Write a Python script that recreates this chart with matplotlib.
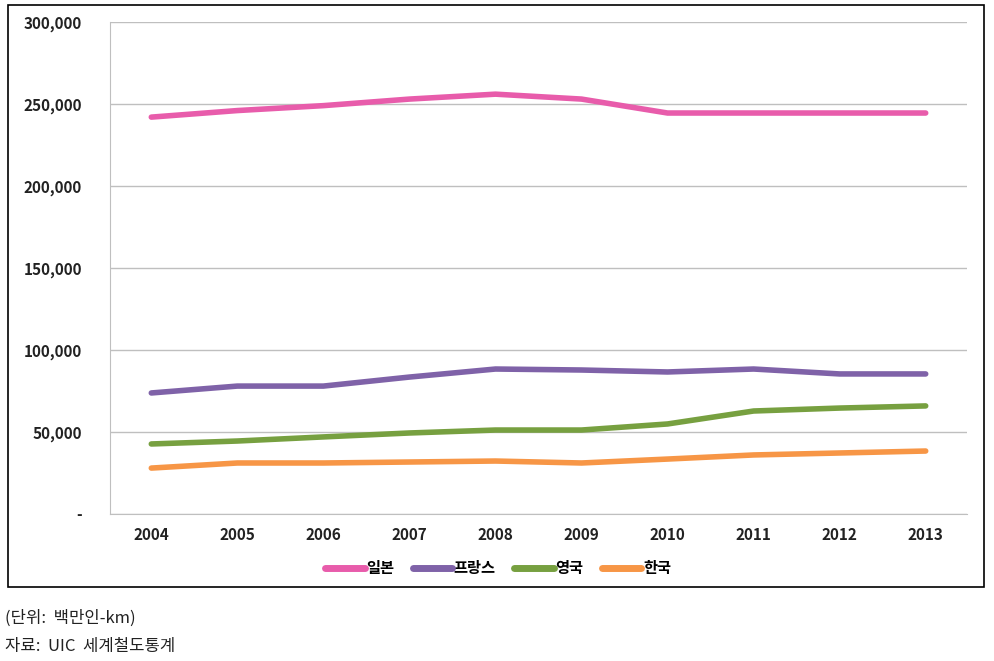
import matplotlib
matplotlib.use('Agg')
import matplotlib.pyplot as plt
from matplotlib.patches import Rectangle
from matplotlib.ticker import FuncFormatter

plt.rcParams['font.family'] = ['Noto Sans CJK KR', 'DejaVu Sans']

years = [2004, 2005, 2006, 2007, 2008, 2009, 2010, 2011, 2012, 2013]
japan = [242000, 246000, 249000, 253000, 256000, 253000, 244500, 244500, 244500, 244500]
france = [73800, 78000, 78000, 83500, 88400, 87800, 86600, 88400, 85400, 85400]
uk = [42700, 44500, 47000, 49400, 51200, 51200, 54900, 62800, 64600, 65900]
korea = [28000, 31100, 31100, 31700, 32300, 31100, 33500, 36000, 37200, 38400]

series = [
    ('일본', japan, '#E85CAB'),
    ('프랑스', france, '#7F62A8'),
    ('영국', uk, '#77A040'),
    ('한국', korea, '#F79646'),
]

fig = plt.figure(figsize=(9.94, 6.61), dpi=100)
ax = fig.add_axes([110 / 994, 1 - 514 / 661, (967 - 110) / 994, (514 - 22) / 661])

for name, vals, col in series:
    ax.plot(years, vals, color=col, lw=4, solid_capstyle='round', label=name)

ax.set_xlim(2003.52, 2013.48)
ax.set_ylim(0, 300000)
ax.set_yticks(range(0, 300001, 50000))
ax.yaxis.set_major_formatter(FuncFormatter(lambda v, p: '-' if v == 0 else '{:,}'.format(int(v))))
ax.set_xticks(years)
ax.grid(axis='y', color='#BFBFBF', lw=1)
ax.set_axisbelow(True)
for s in ['top', 'right']:
    ax.spines[s].set_visible(False)
ax.spines['left'].set_color('#BFBFBF')
ax.spines['bottom'].set_color('#BFBFBF')
ax.tick_params(length=0, labelsize=11)
ax.tick_params(axis='y', pad=20)
ax.tick_params(axis='x', pad=9)
for lab in ax.get_xticklabels() + ax.get_yticklabels():
    lab.set_fontweight('bold')
    lab.set_color('#222222')

leg = fig.legend(loc='center', bbox_to_anchor=(498 / 994, 1 - 568 / 661), ncol=4, frameon=False,
                 prop={'size': 11, 'weight': 'bold'}, handlelength=2.6, handletextpad=0.1,
                 columnspacing=1.2)
for line in leg.get_lines():
    line.set_linewidth(5)

fig.patches.append(Rectangle((8 / 994, 1 - 587 / 661), (984 - 8) / 994, (587 - 5) / 661,
                             transform=fig.transFigure, fill=False, ec='black', lw=1.2))

fig.text(5 / 994, 1 - 618 / 661, '(단위:  백만인-km)', fontsize=12, va='center', color='#222222')
fig.text(5 / 994, 1 - 646 / 661, '자료:  UIC  세계철도통계', fontsize=12, va='center', color='#222222')

fig.savefig('out.png', dpi=100)
